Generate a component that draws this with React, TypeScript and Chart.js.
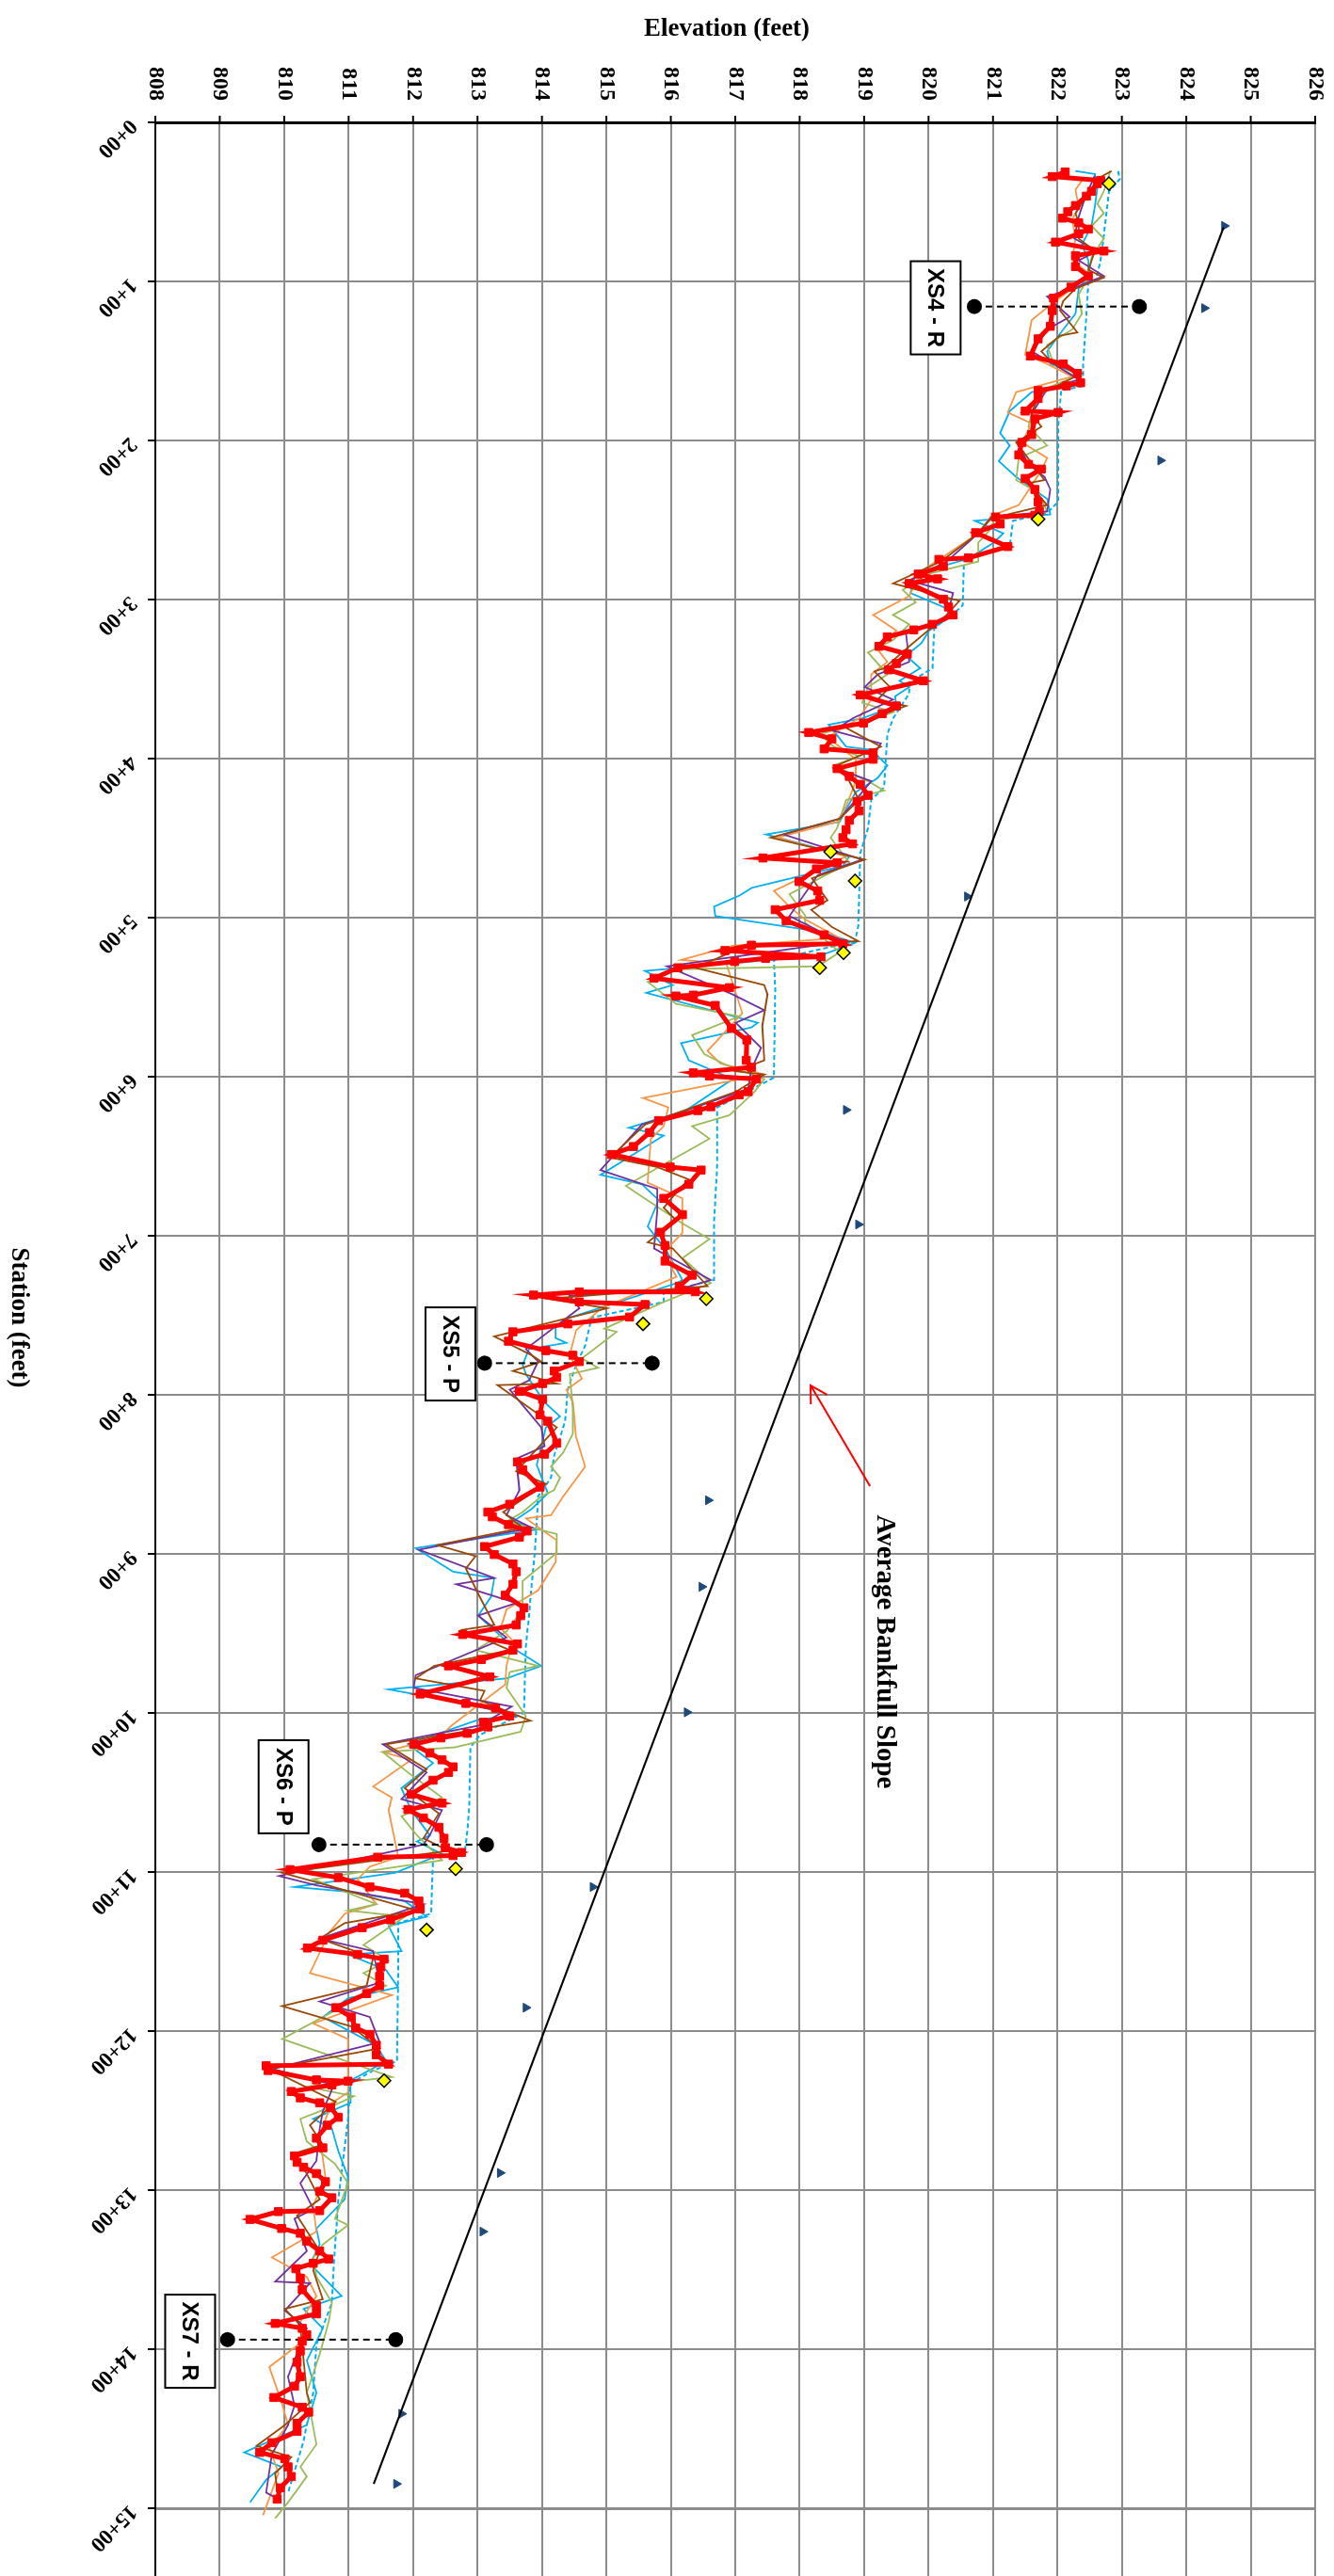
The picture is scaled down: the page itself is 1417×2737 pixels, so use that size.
import React, { useEffect, useRef } from "react";
import { Chart, registerables } from "chart.js";

Chart.register(...registerables);

type P = [number, number];

// ---- axis ticks ----
const elevationTicks = [808, 809, 810, 811, 812, 813, 814, 815, 816, 817, 818, 819, 820, 821, 822, 823, 824, 825, 826];
const stationTicks = [0, 100, 200, 300, 400, 500, 600, 700, 800, 900, 1000, 1100, 1200, 1300, 1400, 1500];
const stationTickLabels = ["0+00", "1+00", "2+00", "3+00", "4+00", "5+00", "6+00", "7+00", "8+00", "9+00", "10+00", "11+00", "12+00", "13+00", "14+00", "15+00"];

// ---- current thalweg profile (red) [station, elevation] ----
const profileCurrent: P[] = [
  [31.2, 822.12], [34.1, 821.92], [36.5, 822.67], [38.5, 822.62], [43.4, 822.53], [46.4, 822.45], [52.3, 822.28], [56.2, 822.16], [60.2, 822.08], [63.1, 822.33], [67.1, 822.48], [70.0, 822.33], [75.3, 821.97], [80.9, 822.72], [83.8, 822.28], [90.7, 822.28], [96.6, 822.48], [103.6, 822.21], [110.5, 821.94], [118.3, 821.92], [128.2, 821.89], [136.1, 821.70], [146.9, 821.58], [151.9, 822.09], [157.8, 822.31], [163.7, 822.36], [165.7, 822.14], [168.6, 821.70], [173.6, 821.70], [181.5, 821.50], [182.4, 822.01], [186.4, 821.65], [196.3, 821.60], [201.2, 821.45], [209.1, 821.40], [215.0, 821.55], [218.0, 821.75], [223.9, 821.50], [230.8, 821.65], [238.7, 821.70], [244.6, 821.72], [247.0, 821.65],
  [248.1, 821.04], [252.5, 821.11], [258.0, 820.73], [266.7, 821.23], [273.8, 820.62], [274.8, 820.16], [279.1, 820.23], [284.0, 819.84], [287.0, 820.14], [289.9, 819.70], [299.8, 820.23], [304.7, 820.31], [309.7, 820.38], [315.6, 820.06], [319.1, 819.77], [323.5, 819.36], [329.4, 819.23], [334.3, 819.67], [340.2, 819.50], [344.2, 819.38], [351.1, 819.92], [360.0, 818.94], [366.9, 819.50], [371.8, 819.28], [377.7, 818.99], [383.6, 818.14], [387.6, 818.50], [393.9, 818.38], [396.4, 819.14], [400.4, 819.14], [406.3, 818.58], [411.2, 818.77], [416.2, 818.94], [423.1, 819.06], [427.0, 818.89], [432.9, 818.92], [438.8, 818.77], [444.7, 818.72], [449.7, 818.67], [453.6, 818.82], [462.5, 817.43], [465.5, 818.58], [469.4, 818.26], [477.3, 817.99], [483.2, 818.28], [489.1, 818.31], [495.0, 817.62],
  [502.0, 817.79], [510.8, 818.38], [516.4, 818.67], [517.3, 817.25], [520.7, 816.84], [524.6, 818.33], [525.6, 817.47], [527.6, 816.99], [531.5, 816.11], [538.1, 815.74], [544.0, 816.91], [548.7, 816.35], [549.3, 816.08], [555.2, 816.69], [569.6, 816.94], [576.9, 817.18], [589.7, 817.17], [594.1, 817.25], [597.6, 816.35], [599.6, 816.60], [601.5, 817.33], [609.4, 817.20], [611.4, 817.06], [618.9, 816.62], [621.3, 816.42], [627.6, 815.81], [635.1, 815.67], [643.9, 815.42], [648.9, 815.08], [656.8, 815.99], [658.7, 816.47], [667.6, 816.28], [676.5, 815.89], [686.7, 816.18], [697.8, 815.84], [706.1, 815.91], [715.9, 815.91], [724.8, 816.33], [731.7, 816.13], [735.2, 816.38],
  [735.3, 814.58], [737.3, 813.87], [741.6, 814.58], [743.2, 815.60], [751.1, 815.36], [755.4, 814.40], [760.4, 813.55], [766.3, 813.48], [772.2, 814.06], [775.1, 814.48], [779.1, 814.58], [785.0, 814.19], [789.0, 814.23], [792.9, 814.01], [797.8, 813.65], [802.8, 814.01], [812.6, 813.97], [816.6, 814.09], [830.4, 814.23], [837.3, 814.04], [842.2, 813.62], [847.1, 813.70], [858.0, 813.97], [868.8, 813.50], [873.7, 813.16], [876.7, 813.23], [881.6, 813.48], [885.6, 813.77], [889.5, 813.65], [895.4, 813.11], [900.4, 813.26], [906.3, 813.55], [911.2, 813.60], [919.1, 813.55], [926.0, 813.43], [933.9, 813.72], [938.8, 813.67], [944.7, 813.60], [950.7, 812.77], [956.6, 813.62], [960.5, 813.55], [966.4, 813.06], [970.4, 812.55], [977.3, 813.19], [988.1, 812.11], [994.0, 812.82], [997.0, 813.28], [1001.9, 813.50],
  [1005.9, 813.09], [1008.8, 813.16], [1012.8, 812.84], [1015.7, 812.43], [1019.7, 812.01], [1025.2, 812.26], [1029.5, 812.45], [1033.9, 812.62], [1037.4, 812.55], [1042.3, 812.31], [1051.2, 811.97], [1056.7, 812.45], [1060.7, 811.92], [1066.0, 812.16], [1071.9, 812.40], [1078.8, 812.48], [1084.7, 812.50], [1087.7, 812.75], [1089.7, 812.62], [1090.7, 811.45], [1098.5, 810.09], [1103.5, 810.84], [1109.4, 811.33], [1113.3, 811.87], [1118.3, 812.09], [1123.2, 812.11], [1130.1, 811.65], [1135.0, 811.21], [1142.9, 810.60], [1147.8, 810.36], [1151.8, 811.14], [1154.8, 811.55], [1159.7, 811.50], [1165.6, 811.48], [1171.5, 811.48], [1176.4, 811.28], [1185.3, 810.80], [1191.2, 811.04], [1198.1, 811.11], [1202.1, 811.33], [1209.0, 811.43], [1214.9, 811.43], [1220.8, 811.62], [1221.8, 809.72], [1224.8, 809.75], [1230.7, 810.50], [1231.5, 810.99],
  [1233.9, 810.74], [1238.0, 810.11], [1242.0, 810.25], [1245.1, 810.55], [1248.1, 810.72], [1254.2, 810.84], [1259.2, 810.67], [1267.3, 810.50], [1273.4, 810.60], [1278.5, 810.16], [1282.5, 810.20], [1285.6, 810.30], [1289.6, 810.50], [1294.7, 810.64], [1300.8, 810.55], [1304.8, 810.74], [1312.9, 810.55], [1313.5, 809.91], [1318.4, 809.47], [1324.1, 809.96], [1327.1, 810.25], [1332.2, 810.35], [1338.3, 810.55], [1343.3, 810.69], [1346.0, 810.45], [1349.4, 810.18], [1355.5, 810.25], [1362.6, 810.28], [1372.7, 810.50], [1377.8, 810.50], [1383.8, 809.86], [1386.9, 810.28], [1390.9, 810.35], [1395.0, 810.28], [1401.1, 810.25], [1408.2, 810.20], [1417.3, 810.25], [1423.3, 810.16], [1430.4, 809.84], [1436.5, 810.28], [1439.6, 810.38], [1446.6, 810.20], [1451.7, 810.20], [1458.8, 809.81], [1464.9, 809.62], [1468.9, 810.01], [1474.0, 810.06], [1480.1, 810.11], [1487.2, 809.94], [1494.3, 809.89],
];

// ---- previous surveys ----
const profileOrange: P[] = [
  [36.5, 822.38], [42.4, 822.28], [53.3, 822.33], [61.1, 822.23], [73.0, 822.28], [86.8, 822.23], [94.7, 822.48], [104.5, 822.23], [116.4, 821.84], [124.3, 821.60], [146.0, 821.50], [151.9, 821.84], [159.8, 822.23], [169.6, 821.36], [182.4, 821.23], [189.3, 821.60], [201.2, 821.45], [211.0, 821.84], [218.9, 821.75], [240.6, 821.40], [247.5, 820.97], [258.4, 820.77], [274.2, 820.19], [282.1, 819.89], [297.8, 819.70], [309.7, 819.14], [319.5, 819.50], [331.4, 819.21], [339.2, 819.36], [347.1, 819.11], [362.9, 819.11], [374.7, 818.92], [386.6, 818.43], [400.4, 818.87], [414.2, 818.87], [429.9, 818.72], [439.8, 818.58], [449.7, 817.65], [461.5, 818.72], [483.2, 817.60], [493.1, 817.84], [501.0, 818.08], [512.8, 818.62], [517.7, 816.96], [526.6, 816.16], [528.6, 816.86], [560.1, 817.11], [583.8, 816.57], [591.7, 816.77], [598.6, 817.45], [613.4, 815.57], [619.3, 815.96], [631.1, 815.89], [639.0, 815.69], [666.6, 815.64], [676.5, 816.18], [698.2, 816.18], [706.1, 815.99], [721.8, 816.03], [725.8, 816.09], [745.6, 814.92], [759.4, 814.53], [775.1, 814.43], [789.9, 814.62], [796.8, 814.38], [804.7, 814.48], [826.4, 814.53], [845.2, 814.67], [863.9, 814.33], [875.7, 814.14], [877.7, 813.75], [891.5, 814.23], [905.3, 814.21], [923.0, 813.94], [934.9, 813.45], [946.7, 813.36], [954.6, 813.55], [970.0, 813.45], [982.2, 813.43], [1007.8, 812.60], [1015.7, 812.40], [1024.6, 811.53], [1029.5, 811.97], [1046.3, 811.38], [1053.2, 811.67], [1061.1, 811.62], [1090.7, 811.77], [1096.6, 811.33], [1104.5, 811.14], [1120.2, 811.43], [1126.2, 810.94], [1138.0, 810.70], [1163.6, 810.40], [1177.4, 811.67], [1195.2, 810.45], [1205.0, 810.99], [1238.6, 810.99], [1245.1, 810.74], [1265.3, 810.55], [1291.7, 810.64], [1309.9, 810.45], [1326.1, 810.50], [1342.3, 809.81], [1354.5, 810.35], [1366.6, 810.50], [1382.8, 810.25], [1393.0, 810.35], [1411.2, 809.77], [1433.5, 809.96], [1447.7, 810.06], [1461.8, 809.77], [1478.0, 809.91], [1504.4, 809.67],
];

const profileCyan: P[] = [
  [30.6, 822.28], [32.5, 822.58], [41.4, 822.62], [53.3, 822.58], [65.1, 822.53], [76.9, 822.38], [86.8, 822.48], [96.6, 822.48], [104.5, 822.33], [120.3, 822.28], [130.2, 822.09], [144.0, 821.84], [151.9, 821.89], [157.8, 822.33], [163.7, 822.33], [169.6, 821.60], [181.5, 821.26], [195.3, 821.11], [203.2, 821.26], [213.0, 821.09], [222.9, 821.36], [236.7, 821.84], [246.5, 821.89], [250.5, 820.72], [258.4, 821.16], [264.3, 821.01], [274.2, 820.62], [284.0, 819.80], [295.9, 819.72], [304.7, 820.23], [309.7, 820.38], [319.5, 820.01], [327.4, 819.89], [335.3, 819.65], [343.2, 819.87], [351.1, 819.55], [355.0, 819.70], [360.9, 819.48], [366.9, 819.50], [374.7, 818.97], [378.7, 818.45], [392.5, 818.72], [394.5, 819.11], [404.3, 819.36], [412.2, 819.21], [421.1, 818.87], [431.9, 818.72], [439.8, 818.62], [447.7, 817.48], [461.5, 818.77], [467.4, 818.67], [481.2, 817.26], [486.2, 817.06], [493.1, 816.67], [499.0, 816.69], [508.9, 818.33], [515.8, 818.86], [523.7, 818.33], [533.5, 815.60], [542.4, 816.03], [547.3, 815.62], [566.1, 817.35], [569.0, 817.25], [578.9, 816.16], [589.7, 816.28], [601.5, 816.96], [621.3, 816.23], [632.1, 815.35], [637.0, 815.89], [661.7, 814.91], [667.6, 815.55], [677.5, 815.81], [694.2, 815.64], [710.0, 815.94], [727.8, 816.18], [729.8, 816.09], [751.5, 814.43], [757.4, 814.21], [764.3, 814.21], [767.3, 814.38], [771.2, 813.80], [781.1, 813.70], [787.0, 813.75], [804.7, 814.04], [813.6, 814.28], [820.5, 814.06], [832.3, 813.99], [844.2, 813.92], [861.9, 814.09], [871.8, 813.84], [879.7, 813.55], [884.6, 813.94], [896.4, 812.04], [911.2, 812.62], [915.2, 813.26], [927.0, 813.21], [938.8, 813.01], [960.5, 813.60], [970.4, 813.99], [978.3, 813.45], [985.2, 811.62], [994.0, 812.82], [1001.9, 813.60], [1003.9, 813.04], [1019.7, 811.92], [1031.5, 812.31], [1047.3, 811.82], [1061.1, 811.97], [1076.9, 812.26], [1080.8, 812.06], [1088.7, 812.45], [1100.5, 811.72], [1109.4, 810.16], [1112.4, 810.99], [1118.3, 811.87], [1128.1, 812.21], [1134.0, 811.62], [1149.8, 811.82], [1151.8, 810.99], [1161.6, 811.58], [1172.5, 811.77], [1179.4, 810.99], [1191.2, 810.60], [1209.0, 811.43], [1218.9, 811.58], [1228.7, 811.14], [1230.9, 811.03], [1245.1, 811.03], [1255.2, 810.45], [1261.3, 810.74], [1275.5, 810.84], [1291.7, 810.99], [1305.8, 810.94], [1324.1, 810.50], [1334.2, 810.55], [1346.4, 810.40], [1366.6, 810.89], [1374.7, 810.30], [1386.9, 810.60], [1407.1, 810.35], [1427.4, 810.50], [1447.7, 810.35], [1464.9, 809.38], [1474.0, 809.96], [1482.1, 809.72], [1496.3, 809.47],
];

const profilePurple: P[] = [
  [33.5, 822.58], [47.3, 822.43], [59.2, 822.33], [73.0, 822.26], [80.9, 822.62], [86.8, 822.33], [96.6, 822.72], [104.5, 822.23], [109.5, 821.84], [122.3, 822.19], [130.2, 821.84], [136.1, 821.75], [144.0, 821.60], [151.9, 821.94], [161.7, 822.33], [167.7, 821.84], [183.4, 821.60], [193.3, 821.60], [203.2, 821.40], [215.0, 821.55], [222.9, 821.80], [230.8, 821.89], [244.6, 821.84], [248.5, 820.97], [258.4, 820.77], [276.1, 820.28], [288.0, 819.70], [295.9, 820.38], [311.6, 820.28], [321.5, 819.65], [339.2, 819.70], [347.1, 819.21], [355.0, 819.01], [362.9, 819.45], [374.7, 818.82], [382.6, 818.53], [390.5, 819.26], [400.4, 819.11], [406.3, 818.58], [414.2, 819.11], [426.0, 818.87], [437.8, 818.62], [447.7, 817.75], [463.5, 818.97], [473.3, 818.28], [499.0, 817.84], [510.8, 818.42], [514.8, 818.72], [530.6, 815.94], [548.3, 816.96], [558.2, 817.45], [566.1, 817.01], [581.8, 817.40], [595.6, 817.25], [607.5, 817.20], [619.3, 816.38], [630.1, 815.55], [658.7, 814.91], [670.6, 815.79], [684.4, 815.79], [708.0, 815.74], [727.8, 816.62], [733.7, 816.13], [737.7, 814.43], [745.6, 814.58], [771.2, 813.75], [779.1, 813.94], [790.9, 813.80], [796.8, 813.50], [820.5, 813.99], [832.3, 814.04], [840.2, 813.60], [859.9, 813.65], [875.7, 813.45], [883.6, 813.84], [897.4, 812.09], [915.2, 813.26], [919.1, 812.67], [930.9, 813.60], [938.8, 813.01], [952.6, 813.45], [976.3, 812.04], [984.2, 812.01], [996.0, 813.53], [1007.8, 813.04], [1019.7, 811.53], [1037.4, 812.21], [1054.2, 811.82], [1061.1, 812.45], [1076.9, 812.26], [1082.8, 812.16], [1102.5, 809.92], [1108.4, 810.50], [1120.2, 812.16], [1141.9, 810.55], [1149.8, 811.38], [1169.5, 811.48], [1181.4, 810.55], [1191.2, 811.33], [1207.0, 811.48], [1223.8, 809.82], [1232.6, 810.65], [1237.0, 810.74], [1250.4, 810.60], [1261.3, 810.55], [1281.5, 810.50], [1295.7, 810.25], [1311.9, 810.45], [1318.0, 810.16], [1338.3, 810.35], [1357.5, 809.86], [1358.5, 810.40], [1375.7, 810.01], [1386.9, 810.35], [1417.3, 810.06], [1435.5, 810.16], [1447.7, 810.06], [1465.9, 809.81], [1490.2, 809.72], [1494.3, 809.91],
];

const profileGreen: P[] = [
  [30.6, 822.82], [43.4, 822.72], [51.3, 822.62], [57.2, 822.72], [65.1, 822.53], [73.0, 822.72], [84.8, 822.53], [96.6, 822.48], [108.5, 822.33], [120.3, 822.38], [130.2, 822.23], [140.0, 821.84], [151.9, 821.94], [159.8, 822.28], [167.7, 821.80], [183.4, 821.60], [191.3, 821.55], [203.2, 821.84], [211.0, 821.40], [224.9, 821.36], [232.7, 821.70], [244.6, 821.84], [250.5, 821.01], [255.4, 820.97], [264.3, 820.77], [276.1, 820.77], [284.0, 819.99], [293.9, 819.60], [301.8, 819.80], [309.7, 819.45], [315.6, 819.70], [325.4, 819.45], [333.3, 819.06], [347.1, 819.36], [355.0, 819.06], [364.9, 818.97], [370.8, 819.45], [376.7, 819.06], [384.6, 818.31], [392.5, 818.53], [398.4, 818.92], [404.3, 818.53], [414.2, 819.06], [420.1, 819.31], [426.0, 818.72], [443.8, 818.58], [449.7, 818.48], [465.5, 818.77], [485.2, 817.84], [499.0, 818.09], [503.0, 818.08], [521.7, 818.62], [530.6, 818.28], [532.5, 816.08], [540.4, 815.64], [554.2, 816.08], [562.1, 817.06], [573.9, 816.33], [585.8, 816.52], [592.7, 816.86], [601.5, 817.45], [609.4, 817.30], [624.2, 816.91], [631.1, 816.33], [639.0, 816.60], [668.6, 815.30], [692.3, 816.18], [702.1, 816.60], [714.0, 816.18], [729.8, 816.62], [741.6, 815.89], [758.4, 814.97], [760.4, 815.16], [777.1, 814.62], [783.0, 814.87], [787.0, 814.43], [808.7, 814.48], [824.4, 814.48], [836.3, 814.33], [845.1, 814.14], [852.1, 814.28], [859.9, 814.19], [863.9, 813.99], [873.7, 813.70], [879.7, 813.45], [887.5, 814.23], [899.4, 814.23], [917.1, 813.70], [934.9, 813.70], [948.7, 813.45], [960.5, 812.97], [970.4, 813.94], [974.3, 813.50], [984.2, 813.45], [1001.9, 813.75], [1011.8, 813.67], [1021.6, 812.65], [1024.6, 811.53], [1037.4, 811.92], [1053.2, 812.45], [1065.0, 811.82], [1076.9, 812.06], [1092.6, 812.45], [1104.5, 810.45], [1120.2, 811.43], [1124.2, 810.99], [1128.1, 811.87], [1145.9, 811.23], [1155.7, 811.62], [1163.6, 811.23], [1171.5, 811.58], [1179.4, 811.14], [1205.0, 809.97], [1228.9, 811.67], [1234.9, 810.35], [1241.0, 811.08], [1249.1, 810.64], [1255.2, 810.25], [1269.4, 810.35], [1283.6, 810.79], [1295.7, 810.99], [1318.0, 810.79], [1322.0, 810.99], [1334.2, 810.60], [1342.3, 810.45], [1354.5, 810.50], [1370.7, 810.74], [1382.8, 810.69], [1403.1, 810.55], [1427.4, 810.35], [1459.8, 810.50], [1474.0, 810.25], [1480.1, 810.35], [1496.3, 810.06], [1506.4, 809.86],
];

const profileBrown: P[] = [
  [30.6, 822.84], [35.5, 822.62], [41.4, 822.53], [57.2, 822.28], [63.1, 822.33], [73.0, 822.33], [80.9, 822.58], [92.7, 822.48], [97.6, 822.72], [104.5, 822.28], [112.4, 822.09], [118.3, 822.04], [132.1, 822.31], [134.1, 822.04], [144.0, 821.75], [151.9, 821.94], [157.8, 822.38], [171.6, 821.70], [183.4, 821.60], [191.3, 821.75], [201.2, 821.36], [224.9, 821.80], [226.8, 821.55], [240.6, 821.84], [249.0, 820.97], [258.4, 820.77], [276.1, 820.19], [289.9, 819.45], [300.8, 820.48], [309.7, 820.28], [329.4, 819.70], [343.2, 819.31], [345.2, 819.16], [355.0, 819.40], [362.9, 819.21], [366.9, 819.65], [380.7, 818.72], [392.5, 819.26], [404.3, 818.58], [414.2, 818.77], [426.0, 818.92], [437.8, 818.62], [449.7, 817.55], [463.5, 819.01], [475.3, 818.19], [489.1, 818.43], [495.1, 818.18], [505.9, 818.50], [514.8, 818.91], [518.7, 817.11], [531.5, 816.38], [542.4, 817.45], [548.3, 817.50], [568.0, 817.42], [589.7, 817.45], [596.6, 817.01], [598.6, 817.45], [609.4, 817.01], [630.1, 815.60], [650.8, 815.06], [656.8, 815.79], [664.6, 816.28], [670.6, 816.13], [682.4, 815.89], [690.3, 816.08], [704.1, 815.64], [708.0, 816.03], [731.7, 816.57], [739.6, 814.09], [745.6, 815.01], [763.3, 813.26], [775.1, 813.84], [779.1, 813.99], [785.0, 813.55], [792.9, 814.23], [793.9, 813.31], [820.5, 814.23], [848.1, 813.60], [856.0, 814.06], [873.7, 813.40], [883.6, 813.70], [894.5, 812.38], [901.4, 812.97], [909.2, 812.82], [925.0, 813.01], [944.7, 813.26], [947.7, 812.77], [960.5, 813.50], [970.4, 812.33], [978.3, 812.04], [986.1, 813.11], [992.1, 813.04], [1004.9, 813.82], [1019.7, 811.58], [1035.4, 812.21], [1047.3, 811.87], [1063.1, 812.40], [1078.8, 812.16], [1086.7, 812.55], [1100.5, 809.97], [1106.4, 810.50], [1124.2, 812.06], [1132.1, 810.94], [1141.9, 810.55], [1153.8, 811.38], [1171.5, 811.28], [1184.3, 809.97], [1197.1, 811.04], [1210.9, 811.48], [1223.8, 809.77], [1244.5, 810.80], [1259.2, 810.40], [1271.4, 810.60], [1277.5, 810.11], [1289.6, 810.35], [1305.8, 810.55], [1316.0, 810.20], [1338.3, 810.55], [1350.4, 810.45], [1368.6, 810.60], [1374.7, 810.01], [1384.9, 810.25], [1427.4, 810.35], [1433.5, 810.40], [1447.7, 810.01], [1460.8, 809.57], [1467.9, 810.11], [1478.0, 809.86], [1494.3, 809.91],
];

// ---- water surface (dashed) ----
const waterSurface: P[] = [
  [30.6, 822.94], [35.5, 822.97], [43.4, 822.80], [71.0, 822.72], [86.8, 822.67], [98.6, 822.60], [100.6, 822.48], [120.3, 822.45], [151.9, 822.40], [165.7, 822.40], [168.6, 822.06], [191.3, 822.01], [238.7, 822.01], [245.6, 821.84], [250.5, 821.31], [266.3, 821.26], [274.2, 820.55], [303.7, 820.53], [311.6, 820.31], [317.5, 820.09], [343.2, 820.06], [352.1, 819.70], [359.0, 819.70], [374.7, 819.45], [384.6, 819.36], [404.3, 819.33], [418.1, 819.31], [426.0, 819.11], [443.8, 819.06], [459.5, 818.94], [504.9, 818.91], [514.8, 818.86], [526.6, 817.60], [544.4, 817.62], [600.6, 817.60], [619.3, 816.72], [654.8, 816.72], [692.3, 816.67], [727.8, 816.67], [735.6, 815.89], [741.6, 815.89], [751.5, 814.77], [769.2, 814.67], [781.1, 814.53], [796.8, 814.40], [816.6, 814.36], [838.3, 814.19], [852.1, 814.14], [863.9, 813.94], [879.7, 813.92], [899.4, 813.89], [919.1, 813.84], [938.8, 813.80], [958.5, 813.75], [1000.0, 813.72], [1013.8, 813.04], [1021.6, 812.89], [1061.1, 812.87], [1074.9, 812.84], [1088.7, 812.80], [1090.7, 812.31], [1126.2, 812.28], [1132.1, 811.77], [1159.7, 811.77], [1218.9, 811.75], [1224.8, 811.38], [1232.9, 811.03], [1255.2, 810.99], [1305.8, 810.84], [1346.4, 810.77], [1370.7, 810.74], [1397.0, 810.50], [1427.4, 810.45], [1457.8, 810.30], [1490.2, 810.06],
];

// ---- bankfull indicators ----
const bankfullPoints: P[] = [
  [65.1, 824.59], [116.8, 824.28], [212.6, 823.60], [486.7, 820.60], [620.9, 818.72], [692.9, 818.91], [866.3, 816.58], [920.7, 816.48], [999.6, 816.25], [1109.4, 814.79], [1185.3, 813.75], [1289.2, 813.35], [1326.1, 813.08], [1440.6, 811.82], [1484.7, 811.74],
];
const bankfullSlopeLine: P[] = [[66.0, 824.58], [1484.7, 811.39]];

// ---- structures (yellow diamonds) ----
const structurePoints: P[] = [
  [38.5, 822.80], [249.5, 821.70], [458.6, 818.48], [476.9, 818.86], [522.1, 818.68], [531.5, 818.31], [739.6, 816.55], [755.4, 815.57], [1098.0, 812.66], [1136.4, 812.21], [1231.2, 811.55],
];

// ---- cross sections ----
const xsNames = ["XS4 - R", "XS5 - P", "XS6 - P", "XS7 - R"];
const xsStations = [115.8, 780.1, 1082.8, 1394.0];
const xsLeftElev = [820.71, 813.11, 810.54, 809.12];
const xsRightElev = [823.27, 815.71, 813.14, 811.73];
const xsLabelStations = [116.6, 774.3, 1046.4, 1395.0];
const xsLabelElev = [820.11, 812.58, 809.99, 808.54];

// ---- annotation ----
const slopeLabel = "Average Bankfull Slope";
const slopeLabelPos: P = [961.5, 819.31];
const slopeArrowTail: P = [857.4, 819.09];
const slopeArrowHead: P = [794.1, 818.17];

const pts = (a: P[]) => a.map(([x, y]) => ({ x, y }));

const SERIF = '"Liberation Serif", "Times New Roman", serif';
const SANS = '"Liberation Sans", Arial, sans-serif';

const overlayPlugin = {
  id: "overlay",
  afterDraw(chart: any) {
    const ctx: CanvasRenderingContext2D = chart.ctx;
    const xs = chart.scales.x;
    const ys = chart.scales.y;
    const a = chart.chartArea;
    ctx.save();

    // tick marks
    ctx.strokeStyle = "#000";
    ctx.lineWidth = 2;
    elevationTicks.forEach((v) => {
      const y = ys.getPixelForValue(v);
      ctx.beginPath();
      ctx.moveTo(a.left - 7, y);
      ctx.lineTo(a.left, y);
      ctx.stroke();
    });
    stationTicks.forEach((s) => {
      const x = xs.getPixelForValue(s);
      ctx.beginPath();
      ctx.moveTo(x, a.bottom);
      ctx.lineTo(x, a.bottom + 8);
      ctx.stroke();
    });

    // elevation tick labels
    ctx.fillStyle = "#000";
    ctx.font = `bold 24px ${SERIF}`;
    ctx.textAlign = "right";
    ctx.textBaseline = "middle";
    elevationTicks.forEach((v) => {
      ctx.fillText(String(v), a.left - 23, ys.getPixelForValue(v));
    });

    // station tick labels (rotated 45 deg)
    ctx.font = `bold 23px ${SERIF}`;
    ctx.textAlign = "left";
    ctx.textBaseline = "middle";
    stationTicks.forEach((s, i) => {
      const x = xs.getPixelForValue(s);
      ctx.save();
      ctx.translate(x, a.bottom + 24);
      ctx.rotate(Math.PI / 4);
      ctx.fillText(stationTickLabels[i], 0, 0);
      ctx.restore();
    });

    // axis titles
    ctx.textAlign = "center";
    ctx.font = `bold 27px ${SERIF}`;
    ctx.save();
    ctx.translate(31, 645);
    ctx.rotate(-Math.PI / 2);
    ctx.fillText("Elevation (feet)", 0, 0);
    ctx.restore();
    ctx.fillText("Station (feet)", 1400, 1397);

    // cross-section label boxes
    ctx.font = `bold 24px ${SANS}`;
    xsNames.forEach((name, i) => {
      const cx = xs.getPixelForValue(xsLabelStations[i]);
      const cy = ys.getPixelForValue(xsLabelElev[i]);
      const w = 99, h = 53;
      ctx.fillStyle = "#fff";
      ctx.fillRect(cx - w / 2, cy - h / 2, w, h);
      ctx.strokeStyle = "#000";
      ctx.lineWidth = 2;
      ctx.strokeRect(cx - w / 2, cy - h / 2, w, h);
      ctx.fillStyle = "#000";
      ctx.fillText(name, cx, cy + 1);
    });

    // slope annotation
    ctx.font = `bold 29px ${SERIF}`;
    ctx.fillStyle = "#000";
    ctx.fillText(slopeLabel, xs.getPixelForValue(slopeLabelPos[0]), ys.getPixelForValue(slopeLabelPos[1]));
    const tx = xs.getPixelForValue(slopeArrowTail[0]);
    const ty = ys.getPixelForValue(slopeArrowTail[1]);
    const hx = xs.getPixelForValue(slopeArrowHead[0]);
    const hy = ys.getPixelForValue(slopeArrowHead[1]);
    ctx.strokeStyle = "#ff0000";
    ctx.lineWidth = 2;
    ctx.beginPath();
    ctx.moveTo(tx, ty);
    ctx.lineTo(hx, hy);
    const ang = Math.atan2(ty - hy, tx - hx);
    const L = 20;
    ctx.moveTo(hx + L * Math.cos(ang + Math.PI / 6), hy + L * Math.sin(ang + Math.PI / 6));
    ctx.lineTo(hx, hy);
    ctx.lineTo(hx + L * Math.cos(ang - Math.PI / 6), hy + L * Math.sin(ang - Math.PI / 6));
    ctx.stroke();

    ctx.restore();
  },
};

const thin = (label: string, data: P[], color: string) => ({
  label,
  data: pts(data),
  showLine: true,
  borderColor: color,
  backgroundColor: color,
  borderWidth: 1.8,
  pointRadius: 0,
  tension: 0,
});

export default function App() {
  const ref = useRef<HTMLCanvasElement>(null);

  useEffect(() => {
    if (!ref.current) return;
    const xsDatasets: any[] = [];
    xsNames.forEach((name, i) => {
      xsDatasets.push({
        label: name,
        data: pts([[xsStations[i], xsLeftElev[i]], [xsStations[i], xsRightElev[i]]]),
        showLine: true,
        borderColor: "#000",
        backgroundColor: "#000",
        borderWidth: 2,
        borderDash: [7, 5],
        pointRadius: 8,
        pointBorderWidth: 0,
        tension: 0,
      });
    });

    const chart = new Chart(ref.current, {
      type: "scatter",
      data: {
        datasets: [
          {
            label: "Structures",
            data: pts(structurePoints),
            showLine: false,
            pointStyle: "rectRot",
            pointRadius: 7,
            backgroundColor: "#ffff00",
            borderColor: "#000",
            pointBorderWidth: 1.5,
          },
          {
            label: "Current",
            data: pts(profileCurrent),
            showLine: true,
            borderColor: "#ff0000",
            backgroundColor: "#ff0000",
            borderWidth: 5,
            pointStyle: "rect",
            pointRadius: 6,
            pointBorderWidth: 1,
            tension: 0,
          },
          ...xsDatasets,
          thin("Brown", profileBrown, "#984807"),
          thin("Purple", profilePurple, "#7030a0"),
          thin("Green", profileGreen, "#9bbb59"),
          thin("Orange", profileOrange, "#f79646"),
          thin("Cyan", profileCyan, "#00b0f0"),
          {
            label: "Water Surface",
            data: pts(waterSurface),
            showLine: true,
            borderColor: "#00b0f0",
            borderWidth: 2,
            borderDash: [5, 3],
            pointRadius: 0,
            tension: 0,
          },
          {
            label: "Average Bankfull Slope",
            data: pts(bankfullSlopeLine),
            showLine: true,
            borderColor: "#000",
            borderWidth: 2,
            pointRadius: 0,
            tension: 0,
          },
          {
            label: "Bankfull",
            data: pts(bankfullPoints),
            showLine: false,
            pointStyle: "triangle",
            pointRadius: 5.5,
            backgroundColor: "#1f497d",
            borderColor: "#1f497d",
            pointBorderWidth: 1,
          },
        ],
      },
      options: {
        responsive: false,
        animation: false,
        devicePixelRatio: 1,
        events: [],
        layout: { padding: { left: 130, top: 20, right: 6, bottom: 165 }, autoPadding: false },
        plugins: { legend: { display: false }, tooltip: { enabled: false }, title: { display: false } },
        scales: {
          x: {
            type: "linear",
            min: 0,
            max: 1600,
            ticks: { display: false, stepSize: 100 },
            grid: {
              color: "#8c8c8c",
              lineWidth: (c: any) => (c.tick && c.tick.value === 1500 ? 3 : 2),
              drawTicks: false,
            },
            border: { display: true, color: "#000", width: 2 },
            title: { display: false },
          },
          y: {
            type: "linear",
            min: 808,
            max: 826,
            ticks: { display: false, stepSize: 1 },
            grid: { color: "#8c8c8c", lineWidth: 2, drawTicks: false },
            border: { display: true, color: "#000", width: 3 },
            title: { display: false },
          },
        },
      } as any,
      plugins: [overlayPlugin],
    });
    return () => chart.destroy();
  }, []);

  return (
    <div
      style={{
        position: "absolute",
        left: 0,
        top: 0,
        width: 1417,
        height: 2737,
        overflow: "hidden",
        background: "#ffffff",
      }}
    >
      <canvas
        ref={ref}
        width={2840}
        height={1417}
        style={{
          position: "absolute",
          left: 0,
          top: 0,
          width: 2840,
          height: 1417,
          transformOrigin: "0 0",
          transform: "translate(1417px, 0px) rotate(90deg)",
        }}
      />
    </div>
  );
}
